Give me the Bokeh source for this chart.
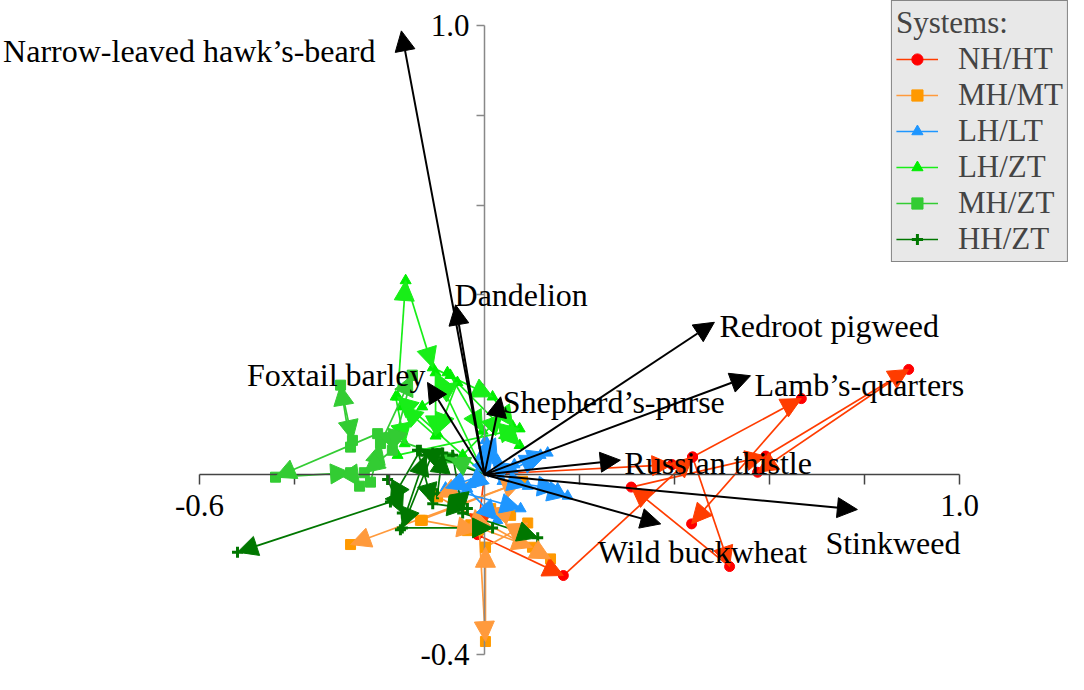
from bokeh.plotting import figure
from bokeh.models import (Range1d, FixedTicker, CustomJSTickFormatter, Arrow, NormalHead,
                          ColumnDataSource, Legend, LegendItem)
from bokeh.core.properties import value
from bokeh.embed import file_html
from bokeh.resources import INLINE

# ---------------- data ----------------
SYSTEMS = ["NH/HT", "MH/MT", "LH/LT", "LH/ZT", "MH/ZT", "HH/ZT"]

# trajectories of each system (each path is a sequence of (axis1, axis2) scores)
NH_HT = [
    [(0, 0), (-0.015, -0.134), (0.166, -0.225), (0.438, 0.039), (0.667, 0.169), (0.436, -0.110)],
    [(0, 0), (0.395, 0.022)],
    [(0.438, 0.039), (0.516, -0.205), (0.309, -0.028), (0.592, 0.041), (0.893, 0.234), (0.575, 0.005)],
]
MH_MT = [
    [(0, 0), (-0.099, -0.050)],
    [(-0.135, -0.102), (0.080, -0.015), (-0.282, -0.156)],
    [(-0.011, -0.123), (0.002, -0.372), (0.002, -0.162)],
    [(-0.109, -0.043), (0.139, -0.188)],
    [(-0.029, -0.112), (0.101, -0.162)],
    [(0.055, -0.091), (0.013, -0.076), (-0.036, -0.125)],
    [(0.002, -0.162), (0.091, -0.108)],
    [(-0.131, -0.102), (-0.015, -0.125)],
]
LH_LT = [
    [(0, 0), (-0.082, -0.030), (0.076, -0.076)],
    [(0, 0), (0.002, 0.076), (0.027, 0.032)],
    [(0, 0), (0.063, 0.022), (0.133, 0.048)],
    [(0, 0), (0.091, -0.026), (0.175, -0.048)],
    [(0, 0), (-0.036, -0.032), (0.027, -0.102)],
    [(0.038, -0.015), (0.154, -0.032)],
    [(-0.029, -0.022), (0.017, 0.043)],
    [(0.059, 0.011), (0.118, 0.043)],
]
LH_ZT = [
    [(0, 0), (-0.183, 0.173), (-0.166, 0.432), (-0.109, 0.238), (0.017, 0.173), (0.059, 0.108)],
    [(0, 0), (-0.103, 0.227), (-0.103, 0.086), (-0.173, 0.151)],
    [(-0.183, 0.043), (0.074, 0.102)],
    [(-0.187, 0.173), (-0.168, 0.069)],
    [(-0.078, 0.227), (0.074, 0.065)],
    [(-0.131, 0.151), (-0.057, 0.205), (-0.099, 0.091)],
    [(-0.046, 0.043), (0.038, 0.134)],
    [(-0.072, 0.221), (-0.004, 0.097)],
]
MH_ZT = [
    [(0, 0), (-0.074, 0.037), (-0.225, 0.091), (-0.440, -0.006), (-0.282, 0.004), (-0.263, -0.026)],
    [(-0.282, 0.061), (-0.303, 0.199), (-0.278, 0.076)],
    [(-0.240, -0.017), (-0.219, 0.069), (-0.152, 0.221)],
    [(-0.152, 0.221), (-0.194, 0.054), (-0.253, 0.004)],
]
HH_ZT = [
    [(0, 0), (-0.135, 0.054), (-0.198, -0.061), (-0.520, -0.173)],
    [(-0.109, 0.048), (-0.173, -0.119), (0.017, -0.119)],
    [(-0.177, -0.123), (-0.124, 0.043)],
    [(-0.141, 0.054), (-0.109, -0.065), (-0.036, -0.076)],
    [(-0.204, -0.011), (-0.173, -0.086)],
    [(-0.067, 0.043), (-0.046, -0.086), (0.112, -0.141)],
    [(-0.099, -0.043), (-0.088, 0.048)],
]
TRAJECTORIES = [NH_HT, MH_MT, LH_LT, LH_ZT, MH_ZT, HH_ZT]

SPECIES = ["Narrow-leaved hawk\u2019s-beard", "Dandelion", "Redroot pigweed", "Lamb\u2019s-quarters",
           "Shepherd\u2019s-purse", "Foxtail barley", "Russian thistle", "Stinkweed", "Wild buckwheat"]
SPECIES_X = [-0.175, -0.061, 0.484, 0.560, 0.034, -0.120, 0.286, 0.785, 0.371]
SPECIES_Y = [0.988, 0.378, 0.339, 0.220, 0.173, 0.205, 0.032, -0.078, -0.110]

X_TICKS = [-0.6, -0.4, -0.2, 0.0, 0.2, 0.4, 0.6, 0.8, 1.0]
Y_TICKS = [-0.4, -0.2, 0.0, 0.2, 0.4, 0.6, 0.8, 1.0]
X_LABELED = [-0.6, 1.0]
Y_LABELED = [-0.4, 1.0]

# ---------------- layout / style ----------------
W, H = 1068, 674
PX_X, PX_Y = 475.0, 449.0          # pixels per data unit
X0_PX, Y0_PX = 484.0, 474.0        # screen position of the origin
FONT = "Liberation Serif"

# label anchor offsets (screen px, y downward) relative to arrow tips
LABEL_DX = [-26, -1, 5, 4, 2, -2, 4, -32, -63]
LABEL_DY = [20, -10, 4, 9, 5, -7, 3, 33, 28]
LABEL_ALIGN = ["right", "left", "left", "left", "left", "right", "left", "left", "left"]

STYLES = [
    dict(line="#ff3c00", fill="#ff0000", marker="circle", size=10, lw=1),
    dict(line="#ff9a3c", fill="#ff9900", marker="square", size=10, lw=1),
    dict(line="#1e96ff", fill="#1e96ff", marker="triangle", size=11, lw=1),
    dict(line="#18ee18", fill="#00ee00", marker="triangle", size=11, lw=1),
    dict(line="#33cc33", fill="#33cc33", marker="square", size=10, lw=1),
    dict(line="#007700", fill="#007700", marker="cross", size=11, lw=3),
]

x_range = Range1d(-X0_PX / PX_X, (W - X0_PX) / PX_X)
y_range = Range1d(-(H - Y0_PX) / PX_Y, Y0_PX / PX_Y)

p = figure(width=W, height=H, x_range=x_range, y_range=y_range,
           output_backend="svg", toolbar_location=None, min_border=0)
p.outline_line_color = None
p.xgrid.visible = False
p.ygrid.visible = False

fmt_code = """
for (const v of keep) { if (Math.abs(tick - v) < 1e-9) return tick.toFixed(1); }
return "";
"""
for ax, ticks, keep, col, tick_out in [(p.xaxis[0], X_TICKS, X_LABELED, "#444444", 10),
                                        (p.yaxis[0], Y_TICKS, Y_LABELED, "#888888", 8)]:
    ax.fixed_location = 0
    ax.bounds = (min(ticks), max(ticks))
    ax.ticker = FixedTicker(ticks=ticks)
    ax.formatter = CustomJSTickFormatter(args=dict(keep=keep), code=fmt_code)
    ax.axis_line_color = col
    ax.axis_line_width = 1.5
    ax.major_tick_line_color = col
    ax.major_tick_line_width = 1.5
    ax.major_tick_out = tick_out
    ax.major_tick_in = 0
    ax.minor_tick_line_color = None
    ax.major_label_text_font = FONT
    ax.major_label_text_font_size = "31px"
    ax.major_label_text_color = "black"
p.xaxis.major_label_standoff = 10
p.yaxis.major_label_standoff = 7

legend_items = []
arrows = []
for name, paths, st in zip(SYSTEMS, TRAJECTORIES, STYLES):
    x0, y0, x1, y1, px, py = [], [], [], [], [], []
    for path in paths:
        for (a, b), (c, d) in zip(path[:-1], path[1:]):
            x0.append(a); y0.append(b); x1.append(c); y1.append(d)
        for (a, b) in path:
            if (a, b) != (0, 0):
                px.append(a); py.append(b)
    src = ColumnDataSource(dict(x0=x0, y0=y0, x1=x1, y1=y1))
    seg = p.segment("x0", "y0", "x1", "y1", source=src, line_color=st["line"], line_width=1.7)
    sc = p.scatter(px, py, marker=st["marker"], size=st["size"], fill_color=st["fill"],
                   line_color=st["fill"], line_width=st["lw"])
    arrows.append(Arrow(end=NormalHead(size=20, fill_color=st["line"], line_color=st["line"], line_width=1),
                        x_start="x0", y_start="y0", x_end="x1", y_end="y1", source=src,
                        line_alpha=0))
    legend_items.append(LegendItem(label=name, renderers=[seg, sc]))

for a in arrows:
    p.add_layout(a)

# species vectors
sp_src = ColumnDataSource(dict(x0=[0.0] * len(SPECIES), y0=[0.0] * len(SPECIES), x1=SPECIES_X, y1=SPECIES_Y))
p.add_layout(Arrow(end=NormalHead(size=20, fill_color="black", line_color="black", line_width=1),
                   x_start="x0", y_start="y0", x_end="x1", y_end="y1", source=sp_src,
                   line_color="black", line_width=2))

for align in ["left", "right"]:
    idx = [i for i, a in enumerate(LABEL_ALIGN) if a == align]
    lx = [SPECIES_X[i] + LABEL_DX[i] / PX_X for i in idx]
    ly = [SPECIES_Y[i] - LABEL_DY[i] / PX_Y for i in idx]
    lt = [SPECIES[i] for i in idx]
    p.text(lx, ly, text=lt, text_font=value(FONT), text_font_size="32px", text_color="black",
           text_align=align, text_baseline="alphabetic", level="overlay")

legend = Legend(items=legend_items, location="top_right", margin=0, title="Systems:",
                title_text_font=FONT, title_text_font_size="31px", title_text_font_style="normal",
                title_standoff=0, label_text_font=FONT, label_text_font_size="31px",
                glyph_width=42, glyph_height=28, label_height=28, label_standoff=20,
                spacing=0, padding=4, background_fill_color="#e8e8e8", background_fill_alpha=1,
                border_line_color="#222222", border_line_width=1.5)
p.add_layout(legend)

open("out.html", "w").write(file_html(p, INLINE))
